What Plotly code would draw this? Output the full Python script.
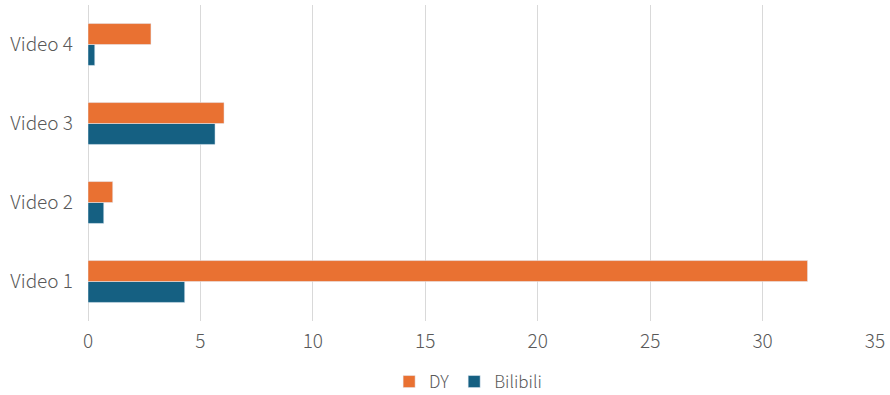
import plotly.graph_objects as go

categories = ["Video 1", "Video 2", "Video 3", "Video 4"]
dy_values = [32.0, 1.1, 6.05, 2.8]
bilibili_values = [4.3, 0.7, 5.65, 0.3]
x_ticks = [0, 5, 10, 15, 20, 25, 30, 35]

ORANGE = "#E97132"
BLUE = "#156082"
TEXT = "#595959"
GRID = "#D9D9D9"
FONT = "Noto Sans CJK SC"

fig = go.Figure()
# Bilibili added first so it sits below DY inside each group
fig.add_trace(go.Bar(y=categories, x=bilibili_values, name="Bilibili",
                     orientation="h", marker_color=BLUE))
fig.add_trace(go.Bar(y=categories, x=dy_values, name="DY",
                     orientation="h", marker_color=ORANGE))

fig.update_layout(
    width=890, height=395,
    margin=dict(l=88, r=15, t=5, b=74, autoexpand=False),
    paper_bgcolor="white", plot_bgcolor="white",
    barmode="group", bargap=0.47, bargroupgap=0,
    font=dict(family=FONT, size=19, color=TEXT, weight=300),
    legend=dict(orientation="h", traceorder="reversed",
                x=0.483, xanchor="center", y=-0.193, yanchor="middle",
                font=dict(size=17, color=TEXT, weight=300),
                itemwidth=30),
    showlegend=True,
)
fig.update_xaxes(range=[0, 35], tickvals=x_ticks, showgrid=True,
                 gridcolor=GRID, gridwidth=1, zeroline=True,
                 zerolinecolor=GRID, zerolinewidth=1, showline=False,
                 ticks="", ticklabelstandoff=7, fixedrange=True)
fig.update_yaxes(showgrid=False, showline=False, ticks="",
                 ticklabelstandoff=14, fixedrange=True)

fig.write_html("out.html")
